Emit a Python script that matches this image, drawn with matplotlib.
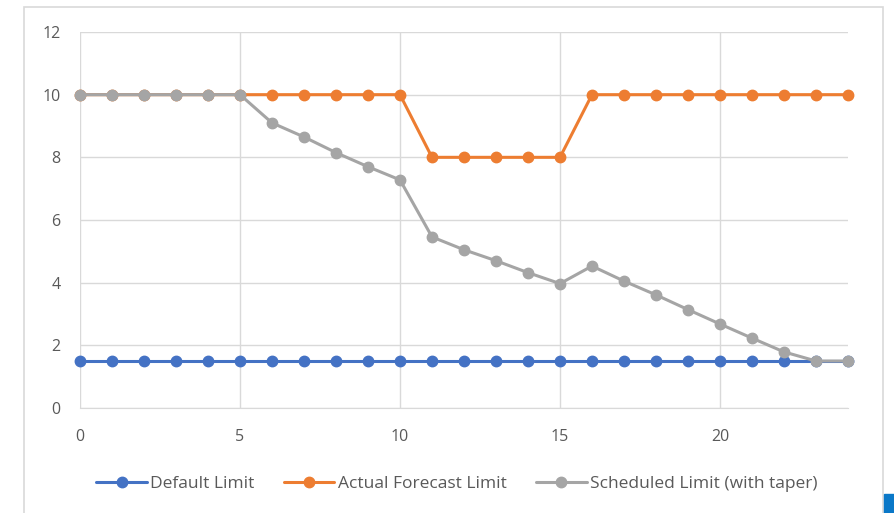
import matplotlib
matplotlib.use('Agg')
import matplotlib.pyplot as plt
from matplotlib.patches import Rectangle

hours = list(range(25))
default_limit = [1.5] * 25
forecast_limit = [10] * 11 + [8] * 5 + [10] * 9
scheduled_limit = [10, 10, 10, 10, 10, 10, 9.1, 8.65, 8.15, 7.7, 7.28,
                   5.46, 5.05, 4.7, 4.32, 3.97, 4.53, 4.05, 3.61, 3.14,
                   2.68, 2.23, 1.79, 1.5, 1.5]
series_names = ['Default Limit', 'Actual Forecast Limit', 'Scheduled Limit (with taper)']
colors = ['#4472C4', '#ED7D31', '#A5A5A5']

plt.rcParams['font.family'] = ['Open Sans', 'DejaVu Sans']

fig = plt.figure(figsize=(8.94, 5.13), dpi=100)
ax = fig.add_axes([80 / 894, 1 - 408 / 513, 768 / 894, 376 / 513])

for vals, name, c in zip([default_limit, forecast_limit, scheduled_limit], series_names, colors):
    ax.plot(hours, vals, color=c, lw=2.2, marker='o', ms=7.5, label=name,
            solid_capstyle='round', clip_on=False, zorder=3)

ax.set_xlim(0, 24)
ax.set_ylim(0, 12)
ax.set_xticks([0, 5, 10, 15, 20])
ax.set_yticks(range(0, 13, 2))
ax.grid(True, color='#D9D9D9', lw=1)
ax.set_axisbelow(True)
for s in ['top', 'right', 'left']:
    ax.spines[s].set_visible(False)
ax.spines['bottom'].set_color('#D9D9D9')
ax.tick_params(length=0, colors='#595959', labelsize=11.5)
ax.tick_params(axis='x', pad=15)
ax.tick_params(axis='y', pad=14)

ax.legend(loc='center', bbox_to_anchor=(457 / 894, 1 - 484 / 513),
          bbox_transform=fig.transFigure, ncol=3, frameon=False,
          fontsize=12.5, labelcolor='#595959', handlelength=2.9,
          handletextpad=0.2, columnspacing=1.7)

# chart area border and selection marker
fig.patches.append(Rectangle((24 / 894, -0.05), 859 / 894, 1.05 - 7 / 513,
                             transform=fig.transFigure, fill=False,
                             edgecolor='#D9D9D9', lw=1.2))
fig.patches.append(Rectangle((884 / 894, 0), 10 / 894, 19 / 513,
                             transform=fig.transFigure, color='#0A78C8'))

fig.savefig('out.png', dpi=100)
